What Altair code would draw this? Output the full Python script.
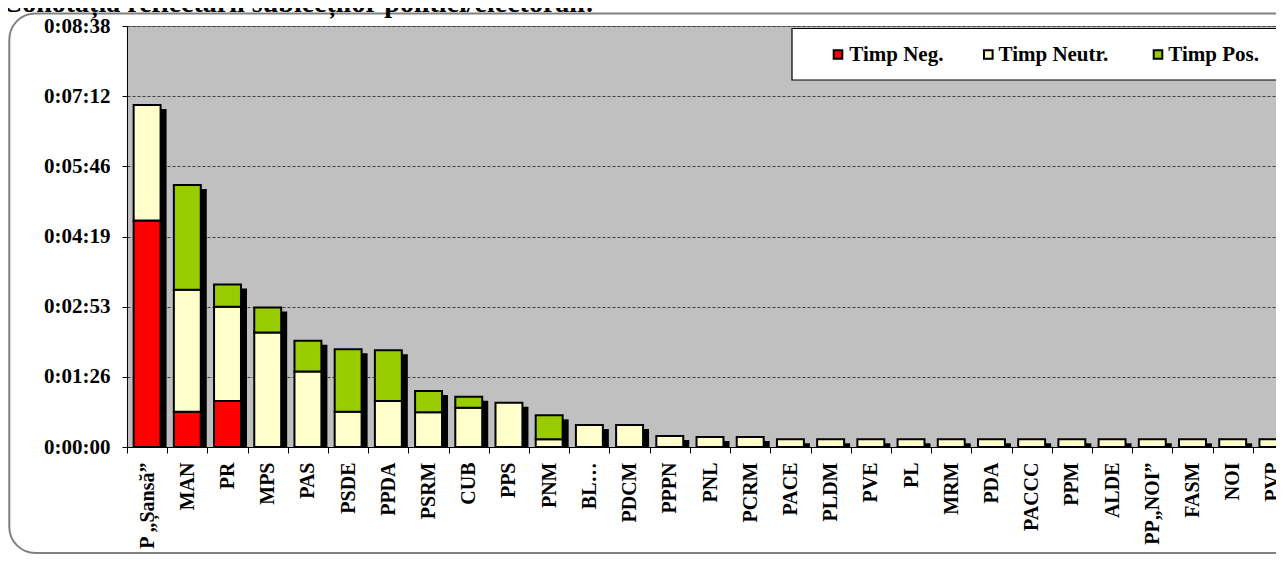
import altair as alt
import pandas as pd

categories = ["P „Șansă”", "MAN", "PR", "MPS", "PAS", "PSDE", "PPDA", "PSRM", "CUB",
              "PPS", "PNM", "BL…", "PDCM", "PPPN", "PNL", "PCRM", "PACE", "PLDM",
              "PVE", "PL", "MRM", "PDA", "PACCC", "PPM", "ALDE", "PP„NOI”", "FASM",
              "NOI", "PVP"]
# seconds
timp_neg = [279, 43.5, 56.6, 0, 0, 0, 0, 0, 0,
            0, 0, 0, 0, 0, 0, 0, 0, 0,
            0, 0, 0, 0, 0, 0, 0, 0, 0,
            0, 0]
timp_neutr = [142, 150, 116, 141, 93, 43.5, 56.6, 42.7, 48.4,
              54.5, 9.5, 27, 27, 13.5, 12.3, 12.3, 9.5, 9.5,
              9.5, 9.5, 9.5, 9.5, 9.5, 9.5, 9.5, 9.5, 9.5,
              9.5, 9.5]
timp_pos = [0, 129, 27.6, 30.8, 37.8, 76.8, 62.4, 26.2, 13.5,
            0, 29.5, 0, 0, 0, 0, 0, 0, 0,
            0, 0, 0, 0, 0, 0, 0, 0, 0,
            0, 0]
series = ["Timp Neg.", "Timp Neutr.", "Timp Pos."]
colors = ["#FF0000", "#FFFFCC", "#99CC00"]
y_ticks = [0, 86.4, 172.8, 259.2, 345.6, 432, 518.4]
title_text = "Conotația reflectării subiecților politici/electorali:"

FONT = "Liberation Serif"

rows = []
for i, c in enumerate(categories):
    for k, (s, vals) in enumerate(zip(series, [timp_neg, timp_neutr, timp_pos])):
        if vals[i] > 0:
            rows.append({"cat": c, "series": s, "val": vals[i], "ord": k})
long_df = pd.DataFrame(rows)
tot_df = pd.DataFrame({"cat": categories,
                       "total": [a + b + c for a, b, c in zip(timp_neg, timp_neutr, timp_pos)]})

lab = ("floor(round(datum.value)/3600) + ':' + "
       "(floor((round(datum.value)%3600)/60) < 10 ? '0' : '') + floor((round(datum.value)%3600)/60) + ':' + "
       "(round(datum.value)%60 < 10 ? '0' : '') + (round(datum.value)%60)")

x_axis = alt.Axis(tickBand="extent", labelAngle=270, labelAlign="right", labelBaseline="middle",
                  labelPadding=9, tickSize=6, tickColor="black", domainColor="black",
                  labelFont=FONT, labelFontSize=20, labelFontWeight="bold", labelColor="black",
                  labelOverlap=False, labelLimit=250, grid=False, title=None)
y_axis = alt.Axis(values=y_ticks, labelExpr=lab, grid=True, gridColor="#404040", gridDash=[3, 2],
                  gridWidth=1, tickSize=5, tickColor="black", domainColor="black",
                  labelFont=FONT, labelFontSize=21, labelFontWeight="bold", labelColor="black",
                  labelPadding=12, title=None)

x_enc = alt.X("cat:N", sort=categories, scale=alt.Scale(paddingInner=0, paddingOuter=0),
              axis=x_axis, title=None)
y_scale = alt.Scale(domain=[0, 518.4], nice=False, zero=True)

one = pd.DataFrame({"d": [0]})

border = alt.Chart(one).mark_rect(
    filled=False, stroke="#808080", strokeWidth=2, cornerRadius=26
).encode(x=alt.value(-117.7), x2=alt.value(1200), y=alt.value(-12.5), y2=alt.value(527))

title = alt.Chart(one).mark_text(
    align="left", baseline="alphabetic", font=FONT, fontSize=28, fontWeight="bold", color="black"
).encode(x=alt.value(-125), y=alt.value(-14), text=alt.value(title_text))

shadow = alt.Chart(tot_df).mark_bar(
    color="black", width=alt.RelativeBandSize(0.67), xOffset=6, yOffset=4, clip=True
).encode(
    x=x_enc,
    y=alt.Y("total:Q", scale=y_scale, axis=y_axis, title=None),
)

bars = alt.Chart(long_df).mark_bar(
    stroke="black", strokeWidth=2, width=alt.RelativeBandSize(0.67)
).encode(
    x=x_enc,
    y=alt.Y("val:Q", stack="zero", scale=y_scale, axis=y_axis, title=None),
    color=alt.Color("series:N", scale=alt.Scale(domain=series, range=colors), legend=None),
    order=alt.Order("ord:Q"),
)

# legend drawn as marks (box, swatches, labels)
legend_box = alt.Chart(one).mark_rect(
    fill="white", stroke="black", strokeWidth=1.2
).encode(x=alt.value(665), x2=alt.value(1200), y=alt.value(2.5), y2=alt.value(54))

swatch_x = [706.7, 857.0, 1026.7]
label_x = [722.3, 871.5, 1041.3]
legend_layers = []
for i, s in enumerate(series):
    legend_layers.append(
        alt.Chart(one).mark_rect(fill=colors[i], stroke="black", strokeWidth=2).encode(
            x=alt.value(swatch_x[i]), x2=alt.value(swatch_x[i] + 8.6),
            y=alt.value(24.2), y2=alt.value(32.8))
    )
    legend_layers.append(
        alt.Chart(one).mark_text(align="left", baseline="alphabetic", font=FONT, fontSize=21,
                                 fontWeight="bold", color="black").encode(
            x=alt.value(label_x[i]), y=alt.value(34.5), text=alt.value(s))
    )

chart = alt.layer(border, title, shadow, bars, legend_box, *legend_layers).properties(
    width=1166, height=421,
    autosize=alt.AutoSizeParams(type="none"),
    padding={"left": 119, "top": 18, "right": -17, "bottom": 108},
    background="white",
).configure_view(fill="#C0C0C0", stroke="#808080", strokeWidth=1)

chart.save("out.html", embed_options={"renderer": "svg", "actions": False})
